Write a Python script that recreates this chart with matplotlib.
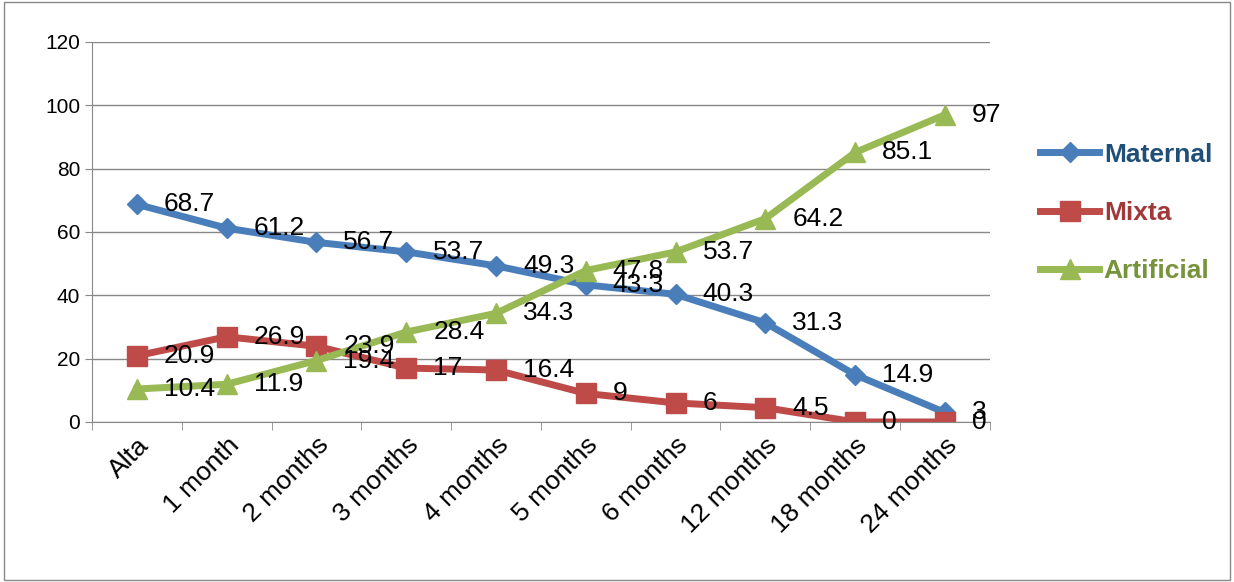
import numpy as np
import matplotlib.pyplot as plt

plt.rcParams['font.family'] = ['Liberation Sans', 'DejaVu Sans']

categories = ['Alta', '1 month', '2 months', '3 months', '4 months', '5 months',
              '6 months', '12 months', '18 months', '24 months']
maternal = [68.7, 61.2, 56.7, 53.7, 49.3, 43.3, 40.3, 31.3, 14.9, 3]
mixta = [20.9, 26.9, 23.9, 17, 16.4, 9, 6, 4.5, 0, 0]
artificial = [10.4, 11.9, 19.4, 28.4, 34.3, 47.8, 53.7, 64.2, 85.1, 97]

fig = plt.figure(figsize=(12.34, 5.82), dpi=100)
ax = fig.add_axes([0.0746, 0.275, 0.7275, 0.653])
x = np.arange(len(categories))

series = [('Maternal', maternal, '#4a7ebb', 'D', 10, '#1f4e79'),
          ('Mixta', mixta, '#be4b48', 's', 14, '#a0393a'),
          ('Artificial', artificial, '#98b954', '^', 14, '#77933c')]
for name, vals, col, mk, ms, tcol in series:
    ax.plot(x, vals, color=col, lw=5, marker=mk, ms=ms, label=name)
    for xi, v in zip(x, vals):
        ax.text(xi + 0.3, v, f'{v:g}', fontsize=19, va='center', ha='left')

ax.set_xlim(-0.5, 9.5)
ax.set_ylim(0, 120)
ax.set_yticks(range(0, 121, 20))
ax.set_xticks(x)
ax.set_xticklabels(categories, rotation=45, ha='right', rotation_mode='anchor', fontsize=19)
ax.tick_params(axis='y', labelsize=15, length=5, color='#888888')
ax.tick_params(axis='x', length=0, pad=8)
ax.set_xticks(np.arange(-0.5, 10, 1), minor=True)
ax.tick_params(axis='x', which='minor', length=6, color='#888888')
ax.grid(axis='y', color='#888888', lw=1)
ax.set_axisbelow(True)
for s in ['top', 'right']:
    ax.spines[s].set_visible(False)
ax.spines['left'].set_color('#888888')
ax.spines['bottom'].set_color('#888888')

leg = ax.legend(loc='center left', bbox_to_anchor=(1.03, 0.55), frameon=False,
                fontsize=19, labelspacing=1.3, handlelength=2.2, handletextpad=0.2)
for t, (_, _, _, _, _, tcol) in zip(leg.get_texts(), series):
    t.set_color(tcol)
    t.set_fontweight('bold')

fig.patches.append(plt.Rectangle((0.003, 0.003), 0.994, 0.994, transform=fig.transFigure,
                                 fill=False, edgecolor='#888888', lw=1))
fig.savefig('out.png', dpi=100)
